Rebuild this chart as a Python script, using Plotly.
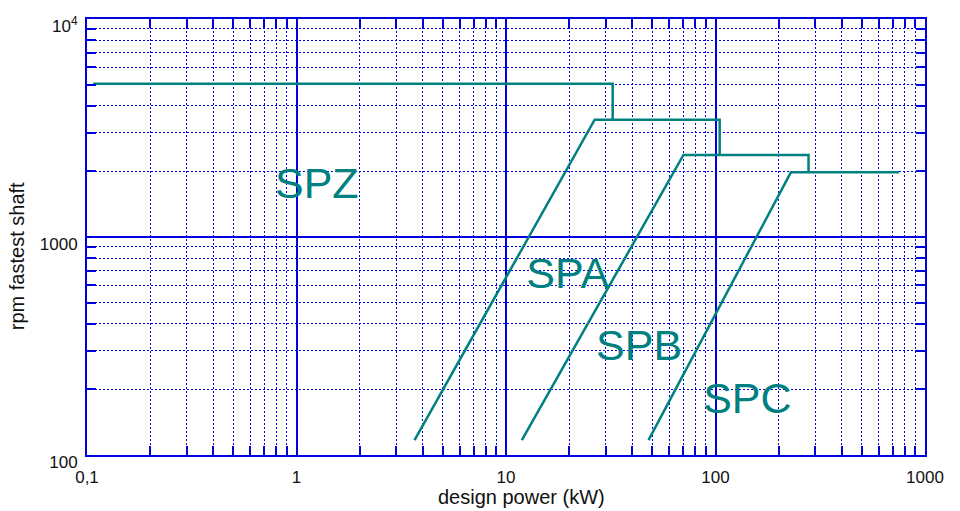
import plotly.graph_objects as go

# ---- data (design power kW, rpm of fastest shaft) ----
spz_kw = [0.107, 32.3, 32.3]
spz_rpm = [5050, 5050, 3450]
spa_kw = [3.66, 26.5, 104.7, 104.7]
spa_rpm = [117, 3450, 3450, 2380]
spb_kw = [11.9, 70.3, 278, 278]
spb_rpm = [117, 2380, 2380, 1980]
spc_kw = [47.9, 229, 753]
spc_rpm = [117, 1980, 1980]

label_names = ["SPZ", "SPA", "SPB", "SPC"]
label_kw = [1.25, 19.7, 43.2, 142]
label_rpm = [1694, 656, 306, 175]

x_tickvals = [0.1, 1, 10, 100, 1000]
x_ticktext = ["0,1", "1", "10", "100", "1000"]
y_tickvals = [100, 1000, 10000]
y_ticktext = ["100", "1000", "10<sup>4</sup>"]
minor_x = [m * 10 ** k for k in range(-1, 3) for m in range(2, 10)]
minor_y = [m * 10 ** k for k in range(2, 4) for m in range(2, 10)]

TEAL = "#008080"
BLUE = "#0000E0"
FONT = "Liberation Sans, Arial, sans-serif"

fig = go.Figure()
for xs, ys in [(spz_kw, spz_rpm), (spa_kw, spa_rpm), (spb_kw, spb_rpm), (spc_kw, spc_rpm)]:
    fig.add_trace(go.Scatter(x=xs, y=ys, mode="lines",
                             line=dict(color=TEAL, width=2.5), showlegend=False,
                             hoverinfo="skip"))

fig.add_trace(go.Scatter(x=label_kw, y=label_rpm, mode="text", text=label_names,
                         textposition="middle center",
                         textfont=dict(color=TEAL, size=43, family=FONT),
                         showlegend=False, hoverinfo="skip"))

axis_common = dict(
    type="log",
    showline=True, linecolor=BLUE, linewidth=2, mirror="allticks",
    ticks="inside", ticklen=14, tickwidth=2, tickcolor=BLUE,
    showgrid=True, gridcolor=BLUE, gridwidth=1.5,
    zeroline=False,
    ticklabeloverflow="allow",
    tickfont=dict(size=17, color="#111111", family=FONT),
)

minor_common = dict(tickmode="array", ticks="inside", ticklen=9,
                    tickwidth=2, tickcolor=BLUE, showgrid=True, gridcolor=BLUE,
                    griddash="2px,2px", gridwidth=1)

fig.update_xaxes(
    **axis_common,
    range=[-1, 3],
    tickmode="array", tickvals=x_tickvals, ticktext=x_ticktext,
    ticklabelstandoff=6,
    minor=dict(tickvals=minor_x, **minor_common),
)
fig.update_yaxes(
    **axis_common,
    range=[2, 4],
    tickmode="array", tickvals=y_tickvals, ticktext=y_ticktext,
    ticklabelstandoff=4, ticklabelshift=7,
    minor=dict(tickvals=minor_y, **minor_common),
)

fig.add_annotation(text="design power (kW)", xref="paper", yref="paper",
                   x=0.519, y=-0.0963, showarrow=False,
                   xanchor="center", yanchor="middle",
                   font=dict(size=20, color="#111111", family=FONT))
fig.add_annotation(text="rpm fastest shaft", xref="paper", yref="paper",
                   x=-0.0835, y=0.456, showarrow=False, textangle=-90,
                   xanchor="center", yanchor="middle",
                   font=dict(size=20, color="#111111", family=FONT))

fig.update_layout(
    width=960, height=511,
    margin=dict(l=87, r=35, t=19, b=56, autoexpand=False),
    paper_bgcolor="white", plot_bgcolor="white",
    showlegend=False,
)

fig.write_html("out.html", config={"displayModeBar": False},
               post_script="document.body.style.margin='0px';document.body.style.overflow='hidden';")
